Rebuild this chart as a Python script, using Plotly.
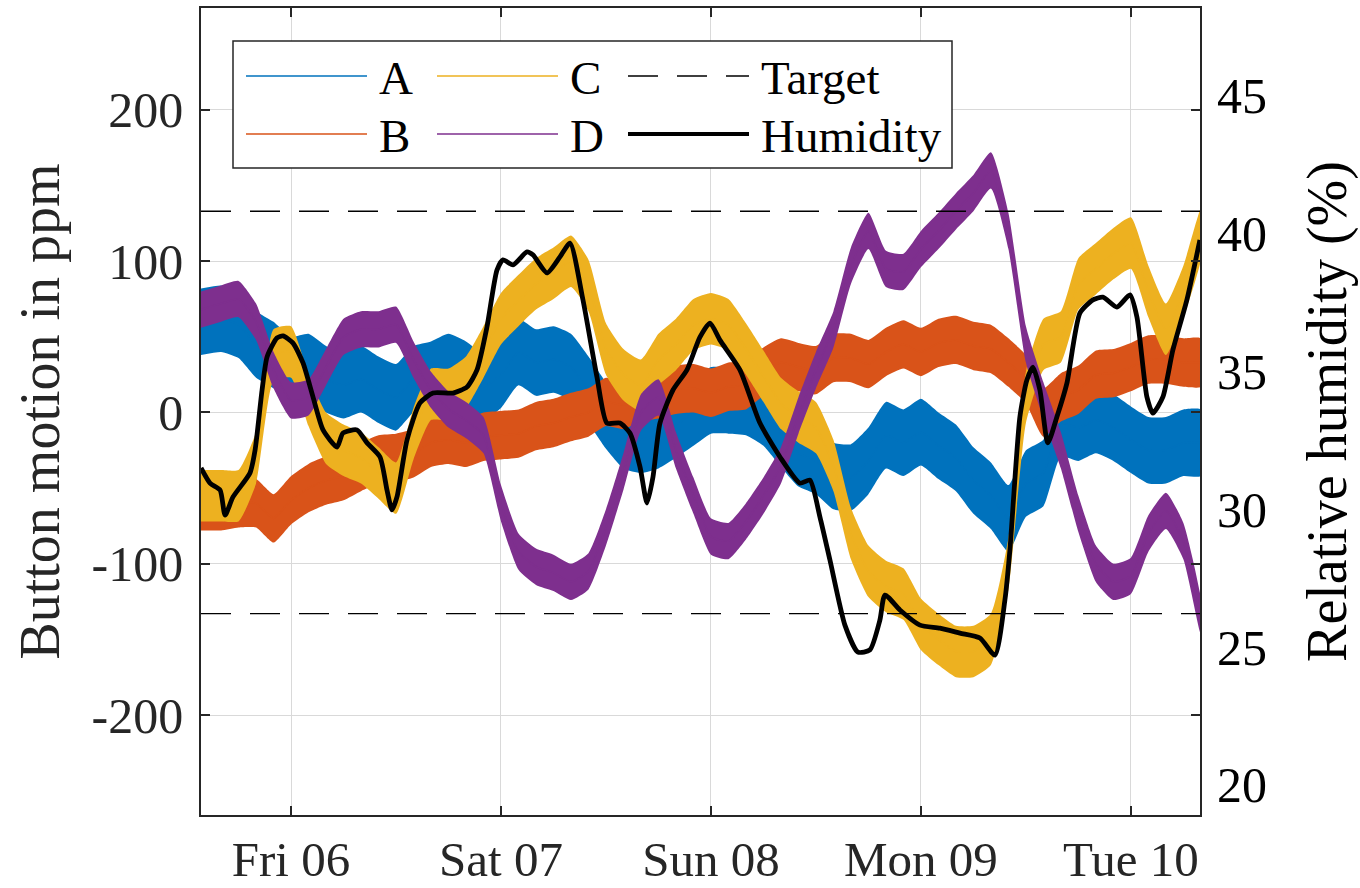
import plotly.graph_objects as go
from datetime import datetime, timedelta

# ---------------- data ----------------
base_day = datetime(2020, 11, 6)          # Fri 06, 00:00
x_range_hours = [-10.29, 103.9]           # axis limits, hours from Fri 06 00:00

# sample times (hours from Fri 06 00:00) of the four button sensors
hours = [-10.3, -8, -6, -4, -2, 0, 2, 4, 6, 8, 10, 12, 14, 16, 18, 20, 22,
         24, 26, 28, 30, 32, 34, 36, 38, 40, 42, 44, 46, 48, 50, 52, 54, 56,
         58, 60, 62, 64, 66, 68, 70, 72, 74, 76, 78, 80, 82, 84, 86, 88, 90,
         92, 94, 96, 98, 100, 102, 104]

a_ppm = [60, 62, 58, 45, 38, 28, 30, 22, 18, 22, 15, 10, 22, 25, 30, 25, 17,
         25, 40, 33, 35, 30, 15, -2, -15, -18, -15, -8, 0, 8, 8, 7, 0, -14,
         -27, -32, -42, -43, -32, -15, -20, -13, -22, -30, -45, -55, -70, -47,
         -40, -7, -10, -5, -10, -18, -25, -25, -20, -20]
b_ppm = [-62, -62, -60, -60, -70, -58, -50, -45, -42, -36, -31, -30, -27, -20,
         -18, -20, -16, -15, -14, -9, -7, -3, 0, 7, 5, 10, 12, 15, 16, 13, 17,
         18, 27, 33, 30, 28, 36, 36, 32, 40, 45, 40, 46, 48, 44, 42, 33, 22, 0,
         10, 15, 25, 26, 30, 35, 35, 33, 33]
c_ppm = [-55, -55, -55, -30, 38, 40, 8, -17, -25, -30, -40, -50, -14, 12, 12,
         20, 40, 62, 74, 85, 92, 100, 84, 42, 25, 18, 35, 45, 58, 62, 58, 42,
         24, 6, -3, -10, -35, -80, -105, -115, -120, -140, -150, -158, -158,
         -150, -100, 10, 45, 50, 85, 95, 105, 112, 80, 55, 80, 118]
d_ppm = [68, 72, 75, 60, 28, 8, 10, 30, 50, 55, 55, 58, 35, 15, 2, -5, -15,
         -60, -92, -102, -106, -112, -105, -76, -39, 0, 10, -25, -55, -82, -85,
         -72, -55, -35, -2, 28, 55, 97, 120, 95, 93, 108, 120, 133, 145, 160,
         120, 45, 8, -25, -67, -100, -112, -108, -80, -65, -85, -135]

# spread (half-width) of the measurement noise of each sensor, ppm
noise_ppm = {"A": 22, "B": 16, "C": 17, "D": 12}

target_ppm = 133

humidity_hours = [-10.29, -9.26, -8.11, -7.54, -6.63, -4.69, -4.11, -3.31, -2.74,
                  -1.60, -0.91, 0.23, 1.37, 2.51, 3.66, 5.26, 5.94, 7.54, 8.69,
                  10.17, 10.97, 11.54, 12.11, 13.26, 14.74, 16.23, 18.51, 20.11,
                  21.26, 22.40, 23.54, 24.23, 25.37, 26.97, 27.66, 29.26, 30.74,
                  31.89, 33.37, 34.97, 36.11, 37.60, 38.74, 39.89, 40.69, 41.37,
                  42.17, 43.66, 45.26, 46.74, 47.89, 49.03, 51.31, 53.60, 55.89,
                  58.17, 59.31, 60.46, 61.60, 63.31, 64.80, 66.17, 67.31, 67.89,
                  69.60, 71.89, 74.17, 76.46, 78.74, 80.46, 81.60, 82.17, 83.31,
                  84.11, 84.80, 85.60, 86.51, 87.54, 88.69, 90.17, 91.66, 92.80,
                  94.40, 95.89, 96.69, 97.83, 98.51, 99.66, 100.80, 102.40, 103.89]
humidity_pct = [31.50, 30.95, 30.70, 29.79, 30.45, 31.32, 32.15, 34.33, 35.53,
                36.22, 36.29, 36.03, 35.31, 34.08, 32.88, 32.26, 32.77, 32.88,
                32.41, 31.90, 30.70, 29.98, 30.45, 32.52, 33.86, 34.22, 34.22,
                34.44, 35.06, 36.62, 38.68, 39.05, 38.87, 39.34, 39.23, 38.58,
                39.16, 39.66, 37.60, 34.80, 33.13, 33.13, 32.77, 31.54, 30.23,
                31.17, 33.13, 34.33, 35.06, 36.25, 36.76, 36.14, 35.06, 33.13,
                31.90, 30.95, 31.06, 29.72, 28.16, 25.80, 24.82, 24.90, 25.98,
                26.89, 26.35, 25.80, 25.69, 25.51, 25.33, 24.71, 26.71, 28.52,
                33.35, 34.69, 35.16, 34.33, 32.41, 33.35, 34.58, 37.12, 37.60,
                37.70, 37.34, 37.78, 36.98, 34.08, 33.49, 34.08, 35.78, 37.60,
                39.77]

day_tick_hours = [0, 24, 48, 72, 96]
day_tick_labels = ["Fri 06", "Sat 07", "Sun 08", "Mon 09", "Tue 10"]
left_ticks = [-200, -100, 0, 100, 200]
left_tick_labels = ["-200", "-100", "0", "100", "200"]
right_ticks = [20, 25, 30, 35, 40, 45]
right_tick_labels = ["20", "25", "30", "35", "40", "45"]

# ---------------- figure ----------------
def t(h):
    return base_day + timedelta(hours=h)

times = [t(h) for h in hours]
hum_times = [t(h) for h in humidity_hours]
x0, x1 = t(x_range_hours[0]), t(x_range_hours[1])

FONT = "Liberation Serif"
COLORS = {"A": "#0072BD", "B": "#D95319", "C": "#EDB120", "D": "#7E2F8E"}
series = [("A", a_ppm), ("B", b_ppm), ("C", c_ppm), ("D", d_ppm)]
TARGET_DASH = "30px,19px"
HUM_WIDTH = 4.8

fig = go.Figure()
for name, vals in series:
    color = COLORS[name]
    amp = noise_ppm[name]
    upper = [v + amp for v in vals]
    lower = [v - amp for v in vals]
    fig.add_trace(go.Scatter(
        x=times + times[::-1], y=upper + lower[::-1], fill="toself",
        fillcolor=color, line=dict(width=0, color=color, shape="spline",
                                   smoothing=0.5),
        mode="lines", showlegend=False, hoverinfo="skip"))
    fig.add_trace(go.Scatter(
        x=times, y=vals, mode="lines", name=name, showlegend=False,
        line=dict(color=color, width=1.6, shape="spline", smoothing=0.5)))

fig.add_trace(go.Scatter(
    x=[x0, x1, None, x0, x1],
    y=[target_ppm, target_ppm, None, -target_ppm, -target_ppm],
    mode="lines", name="Target", showlegend=False,
    line=dict(color="#000000", width=1.4, dash=TARGET_DASH)))

fig.add_trace(go.Scatter(
    x=hum_times, y=humidity_pct, mode="lines", name="Humidity",
    yaxis="y2", showlegend=False,
    line=dict(color="#000000", width=HUM_WIDTH, shape="spline", smoothing=0.6)))

# ---------------- legend (3 columns x 2 rows, drawn in paper space) ----------
PX_L, PX_R, PX_T, PX_B = 201, 1200, 8, 815


def px(xp):
    return (xp - PX_L) / (PX_R - PX_L)


def py(yp):
    return (PX_B - yp) / (PX_B - PX_T)


legend_entries = [
    ("A", COLORS["A"], 1.6, "solid", 0, 0),
    ("B", COLORS["B"], 1.6, "solid", 0, 1),
    ("C", COLORS["C"], 1.6, "solid", 1, 0),
    ("D", COLORS["D"], 1.6, "solid", 1, 1),
    ("Target", "#000000", 1.6, TARGET_DASH, 2, 0),
    ("Humidity", "#000000", 4.2, "solid", 2, 1),
]
col_line_x = [246, 437, 628]
line_len = 121
text_gap = 10
row_y = [76, 134]

shapes = [dict(type="rect", xref="paper", yref="paper",
               x0=px(233), x1=px(952), y0=py(168), y1=py(41),
               fillcolor="white", line=dict(color="#262626", width=1.5),
               layer="above")]
annotations = []
for label, color, width, dash, col, row in legend_entries:
    xs = col_line_x[col]
    shapes.append(dict(type="line", xref="paper", yref="paper",
                       x0=px(xs), x1=px(xs + line_len),
                       y0=py(row_y[row]), y1=py(row_y[row]),
                       line=dict(color=color, width=width, dash=dash),
                       layer="above"))
    annotations.append(dict(text=label, xref="paper", yref="paper",
                            x=px(xs + line_len + text_gap), y=py(row_y[row] + 2),
                            xanchor="left", yanchor="middle", showarrow=False,
                            font=dict(family=FONT, size=47, color="#000000")))

axis_color = "#262626"
grid_color = "#d9d9d9"

fig.update_layout(
    width=1360, height=888,
    margin=dict(l=201, r=160, t=8, b=73),
    paper_bgcolor="white", plot_bgcolor="white",
    font=dict(family=FONT, color=axis_color),
    showlegend=False,
    shapes=shapes, annotations=annotations,
    xaxis=dict(
        type="date", range=[x0, x1], automargin=False,
        tickvals=[t(h) for h in day_tick_hours], ticktext=day_tick_labels,
        ticks="inside", ticklen=9, tickwidth=1.5, tickcolor=axis_color,
        showline=True, linecolor=axis_color, linewidth=1.5, mirror="ticks",
        showgrid=True, gridcolor=grid_color, gridwidth=1.2, zeroline=False,
        tickfont=dict(family=FONT, size=49, color=axis_color),
        ticklabelstandoff=0,
    ),
    yaxis=dict(
        range=[-266.1, 267.4], automargin=False,
        tickvals=left_ticks, ticktext=left_tick_labels,
        ticks="inside", ticklen=9, tickwidth=1.5, tickcolor=axis_color,
        showline=True, linecolor=axis_color, linewidth=1.5, mirror="ticks",
        showgrid=True, gridcolor=grid_color, gridwidth=1.2, zeroline=False,
        tickfont=dict(family=FONT, size=50, color=axis_color),
        ticklabelstandoff=6,
        title=dict(text="Button motion in ppm", standoff=14,
                   font=dict(family=FONT, size=56, color=axis_color)),
    ),
    yaxis2=dict(
        overlaying="y", side="right", range=[18.91, 48.19], automargin=False,
        tickvals=right_ticks, ticktext=right_tick_labels,
        ticks="", showline=False, showgrid=False, zeroline=False,
        tickfont=dict(family=FONT, size=50, color="#000000"),
        ticklabelstandoff=16,
        title=dict(text="Relative humidity (%)", standoff=40,
                   font=dict(family=FONT, size=56, color="#000000")),
    ),
)

fig.write_html("out.html")
